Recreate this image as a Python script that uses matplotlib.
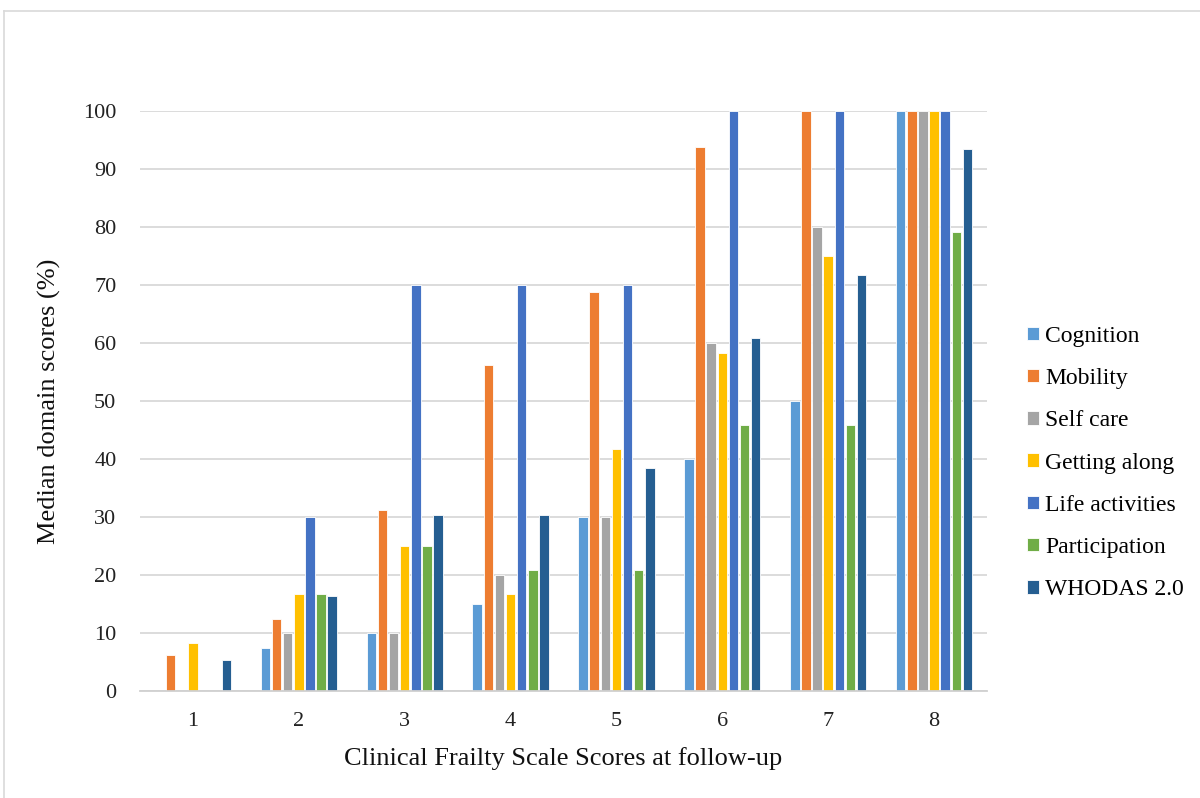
import numpy as np
import matplotlib.pyplot as plt
from matplotlib.lines import Line2D

plt.rcParams['font.family'] = ['Liberation Serif', 'DejaVu Serif']

scores = [1, 2, 3, 4, 5, 6, 7, 8]
series = ['Cognition', 'Mobility', 'Self care', 'Getting along',
          'Life activities', 'Participation', 'WHODAS 2.0']
cognition = [0, 7.5, 10, 15, 30, 40, 50, 100]
mobility = [6.25, 12.5, 31.25, 56.25, 68.75, 93.75, 100, 100]
self_care = [0, 10, 10, 20, 30, 60, 80, 100]
getting_along = [8.33, 16.67, 25, 16.67, 41.67, 58.33, 75, 100]
life_activities = [0, 30, 70, 70, 70, 100, 100, 100]
participation = [0, 16.67, 25, 20.83, 20.83, 45.83, 45.83, 79.17]
whodas = [5.4, 16.3, 30.3, 30.3, 38.5, 60.8, 71.7, 93.5]
colors = ['#5B9BD5', '#ED7D31', '#A5A5A5', '#FFC000', '#4472C4', '#70AD47', '#255E91']

values = [cognition, mobility, self_care, getting_along, life_activities, participation, whodas]

fig = plt.figure(figsize=(12, 7.98), dpi=100)
ax = fig.add_axes([140/1200, 1 - 691/798, (987-140)/1200, (691-111)/798])

x = np.arange(len(scores)) + 1
step = 0.105
width = 0.09
for i, (name, vals) in enumerate(zip(series, values)):
    ax.bar(x + (i - 3) * step, vals, width, color=colors[i], label=name,
           edgecolor='white', linewidth=0.6, zorder=3)

ax.set_xlim(0.5, 8.5)
ax.set_ylim(0, 100)
ax.set_yticks(range(0, 101, 10))
ax.set_xticks(x)
ax.set_xticklabels([str(s) for s in scores])
ax.tick_params(axis='both', length=0, labelsize=16, colors='#222222')
ax.tick_params(axis='y', pad=17)
ax.tick_params(axis='x', pad=15)
ax.grid(axis='y', color='#d9d9d9', linewidth=1.3, zorder=0)
ax.set_axisbelow(True)
for s in ['top', 'right', 'left']:
    ax.spines[s].set_visible(False)
ax.spines['bottom'].set_color('#d0d0d0')
ax.spines['bottom'].set_linewidth(1.3)
ax.spines['bottom'].set_zorder(4)

ax.set_ylabel('Median domain scores (%)', fontsize=19, color='#111111', labelpad=16)
ax.set_xlabel('Clinical Frailty Scale Scores at follow-up', fontsize=19,
              color='#111111', labelpad=12)

handles, labels = ax.get_legend_handles_labels()
fig.legend(handles, labels, loc='center left', bbox_to_anchor=(1006/1200, 1 - 463/798),
           frameon=False, fontsize=17, handlelength=0.5, handleheight=0.5,
           handletextpad=0.25, labelspacing=0.9)

# outer frame
fig.add_artist(Line2D([4/1200, 4/1200], [0, 1 - 11/798], color='#d9d9d9',
                      linewidth=1.2, transform=fig.transFigure))
fig.add_artist(Line2D([4/1200, 1], [1 - 11/798, 1 - 11/798], color='#d9d9d9',
                      linewidth=1.2, transform=fig.transFigure))

fig.savefig('out.png', dpi=100)
